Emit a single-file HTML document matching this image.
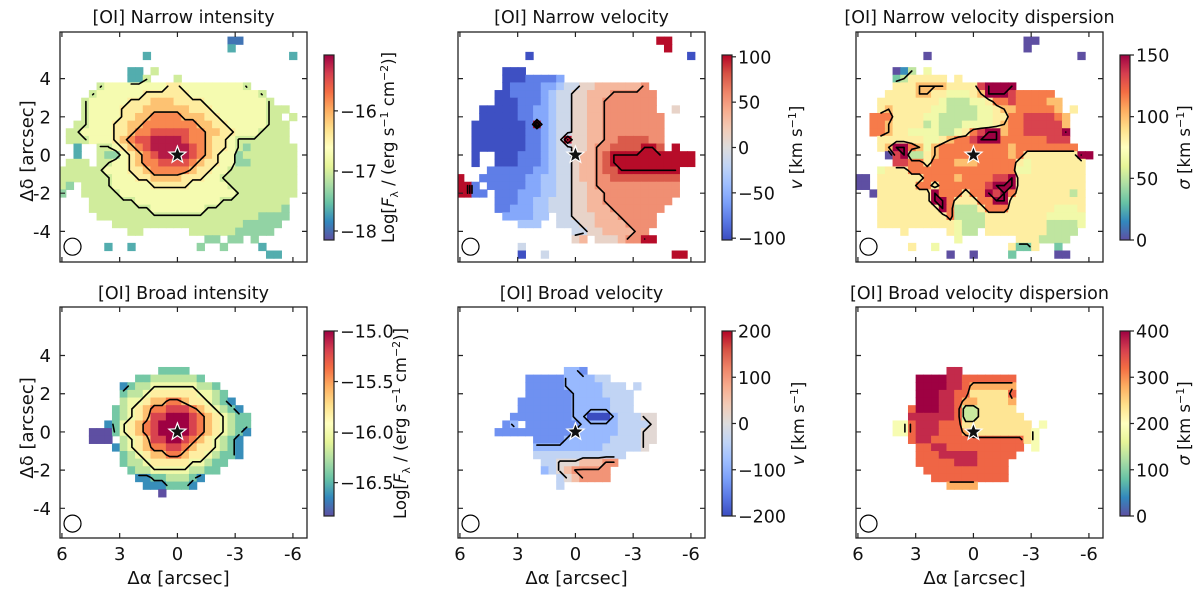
<!DOCTYPE html>
<html><head><meta charset="utf-8"><style>
html,body{margin:0;padding:0;background:#fff;}
svg{display:block;font-family:"DejaVu Sans","Liberation Sans",sans-serif;}
</style></head><body>
<svg id="fig" width="1200" height="592" viewBox="0 0 1200 592" xmlns="http://www.w3.org/2000/svg"></svg>
<script>
// ---------- data (grid rows: chars 0-9 = level, '.' = no data; spaces ignored) ----------
const gridTop = 6.2;
const gridLeft = 6.2;
const cellSize = 0.4;

const narrowIntensityRows = [
"..... ..... ..... ..... ..00. ..... .",
"..... ..... ..... ..... ..1.. ..... .",
"..... ..... .1... ..... ..... ..... 1",
"..... ..... ..... ..... ..... ..... .",
"..... ....1 1.3.. ..... ..... ..... .",
"..... ....1 13... 3.... ..... ..... .",
"..... 34444 44445 54444 44443 ..... .",
"....3 44444 45555 55444 44444 43... .",
"...34 44445 55666 55554 44444 443.. .",
"...34 44455 56666 66555 44444 44333 .",
"...34 44455 66777 76665 54444 4433. 3",
"..334 44556 67777 77766 55444 44333 .",
".3344 44556 77888 88776 65544 43333 .",
".3334 44567 88999 98776 55433 33333 .",
"..1.. 33456 78999 99876 55432 33333 3",
"..1.. 32245 67899 99876 54423 33333 3",
".333. 33445 67788 88765 54422 33333 3",
"33333 34445 56777 77655 44333 33333 3",
"33333 33444 55666 65554 43333 33333 3",
"32.33 33444 44555 55444 44333 33333 3",
"2..33 33344 44444 44444 44433 33333 3",
"....3 33333 44444 44444 43333 33333 .",
"....3 33333 33444 44443 33333 33332 .",
"..... 33333 33333 33333 33333 32222 .",
"..... ..333 33333 33333 33332 2222. .",
"..... ....3 3.... ..333 33322 222.. .",
"..... ..... ..... ....2 2.22. 2.... .",
"..... .1..1 ..... ...2. .2... .1... .",
"..... ..... ..... ..... ..... ..11. .",
"..... ..... ..... ..... ..... ..... ."];
const narrowVelocityRows = [
"..... ..... ..... ..... ..... .99.. .",
"..... ..... ..... ..... ..... ..9.. .",
"..... ....0 ..... ..... ..... ..... 0",
"..... ..... ..... ..... ..... ..... .",
"..... .000. ..... ..... ..... ..... .",
"..... .0001 1112. ..... ..... ..... .",
"..... .0111 12234 45566 66667 ..... .",
"..... 00111 12344 55666 77777 7.... .",
"..... 00011 12344 55667 77777 7.... .",
"...00 00011 22344 55667 77777 7..5. .",
"...00 00011 22344 55667 77777 77... .",
"..000 00001 92344 55667 77777 77... .",
"..000 00001 12344 55667 77777 77... .",
"..000 00001 12349 55667 78888 77... .",
"..000 00001 12344 55677 88889 98.9. .",
"..0.. 00011 12344 56678 99999 99999 9",
"..0.. 00011 12344 56678 99999 99999 9",
"....1 11111 22344 56678 89999 9999. .",
"9..11 11112 23344 56677 88888 8888. .",
"991.1 11112 23344 55677 77777 7777. .",
"9911. 11122 23344 55667 77777 7777. .",
"..... 11122 33444 55667 77777 777.. .",
"..... 11222 33444 55666 77777 77... .",
"..... .2222 33.44 55566 67777 7.... .",
"..... ...33 3..44 45566 66777 7.... .",
"..... ..... ..... 44556 66677 ..... .",
"..... ..... ..... 56.55 56779 9.... .",
"..... ...4. ..... ..... ..... ..... .",
"..... ...0. .4... ..... ..... ...99 .",
"..... ..... ..... ..... ..... ..... ."];
const narrowDispersionRows = [
"..... ..... ..... ..... ..00. ..... .",
"..... ..... ..... ..... ..0.. ..... .",
"..... ....0 ..... ..... ..... ....0 .",
"..... ..... ..... ..... ..... ..... .",
"..... 013.4 ..... ..... ..... ..... .",
"..... 23555 55.5. ..... ..... ..... .",
"..... 55566 66555 58999 9.... ..... .",
"....5 55566 55444 56999 87777 7.... .",
"...55 55555 54333 44577 87777 66... .",
"...56 55555 44333 34456 67777 76.5. .",
"..777 55554 43333 34455 77888 876.. .",
"..776 55553 43334 44456 77888 886.. .",
"..776 55444 43345 78996 77888 889.. .",
"...55 55554 45677 89997 77777 888.. .",
"...56 99764 67777 77777 67777 7777. .",
"....0 89335 67777 67777 67555 55559 9",
"..... 88775 77766 67777 75455 55555 .",
"...45 55777 77777 77777 74455 55555 .",
"00.55 55557 77767 77788 95555 55555 .",
"00.55 55577 57777 77899 95555 55555 .",
"..055 55555 97775 77989 75555 55535 .",
"...55 55555 99755 57799 55555 55555 .",
"...55 55555 59733 35777 55555 54445 .",
"...55 55555 55733 33555 55555 44444 .",
"...55 55555 55543 33555 55555 33334 .",
"..... .5... ..543 3.555 55555 3333. .",
"..... ..... ...4. ..... .5553 333.. .",
"..... ..5.. 4.... ..... 5225. .2... .",
"..... ..... ..0.. 0.... 2.... .00.. .",
"..... ..... ..... ..... ..... ..... ."];
const broadIntensityRows = [
"","","","","","","",
"..... ..... ...22 22... ..... ..... .",
"..... ..... 22333 3332. ..... ..... .",
"..... ...12 33444 44433 2.... ..... .",
"..... ...23 34555 55544 32... ..... .",
"..... ...34 45667 76554 321.. ..... .",
"..... ..234 56778 88765 4321. ..... .",
"..... ..234 56889 99876 54322 ..... .",
"..... .1245 67899 99876 54322 ..... .",
"....0 00245 67899 99876 54321 ..... .",
"....0 00.34 56889 98765 4321. ..... .",
"..... ..134 56778 87655 4321. ..... .",
"..... ...23 45667 76554 3221. ..... .",
"..... ...23 34555 55443 22... ..... .",
"..... ....2 33444 44332 2.... ..... .",
"..... ..... 11223 3321. ..... ..... .",
"..... ..... .1112 221.. ..... ..... .",
"..... ..... ...0. ..... ..... ..... ."];
const broadVelocityRows = [
"","","","","","","",
"..... ..... ....3 32... ..... ..... .",
"..... ....2 22223 33344 ..... ..... .",
"..... ....2 22223 33334 44.4. ..... .",
"..... ....2 22222 33334 444.. ..... .",
"..... ...22 22222 33333 444.. ..... .",
"..... ...22 22222 33333 444.. ..... .",
"..... ..222 22222 33000 34445 5.... .",
"..... .23.2 22222 23333 34444 5.... .",
"..... 22222 22222 33333 34445 5.... .",
"..... ..... 22223 33333 44445 5.... .",
"..... ..... 33333 33334 44445 ..... .",
"..... ..... 44444 44444 44... ..... .",
"..... ..... .4455 56667 7.... ..... .",
"..... ..... .3456 77777 ..... ..... .",
"..... ..... ...45 67777 ..... ..... .",
"..... ..... ...4. ..... ..... ..... ."];
const broadDispersionRows = [
"","","","","","","",
"..... ..... ..88. ..... ..... ..... .",
"..... ...99 99887 77777 7.... ..... .",
"..... ...99 99887 66666 6.... ..... .",
"..... ...99 98877 55555 7.... ..... .",
"..... ...99 98876 65555 6.... ..... .",
"..... ..799 98873 35555 5.... ..... .",
"..... ..888 88873 35555 55... ..... .",
"..... 44788 87775 55555 555.4 ..... .",
"..... 44788 87776 55555 5554. ..... .",
"..... ..788 77777 77777 7754. ..... .",
"..... ...77 88777 77777 77.4. ..... .",
"..... ...77 78888 87777 7.... ..... .",
"..... ...77 77788 87777 ..... ..... .",
"..... ....7 77777 77777 ..... ..... .",
"..... ..... 77777 77777 ..... ..... .",
"..... ..... ..666 6.... ..... ..... ."];

const panelTitles = ["[OI] Narrow intensity","[OI] Narrow velocity","[OI] Narrow velocity dispersion",
                     "[OI] Broad intensity","[OI] Broad velocity","[OI] Broad velocity dispersion"];
const gridMin = [-17.95, -100, 0, -16.83, -230, 0];
const gridMax = [-15.2, 100, 150, -15.0, 200, 420];
const cbarMin = [-18.15, -102, 0, -16.83, -200, 0];
const cbarMax = [-15.07, 102, 150, -15.0, 200, 400];
const cbarTicksTL = [-16, -17, -18];
const cbarTicksTM = [100, 50, 0, -50, -100];
const cbarTicksTR = [150, 100, 50, 0];
const cbarTicksBL = [-15.0, -15.5, -16.0, -16.5];
const cbarTicksBM = [200, 100, 0, -100, -200];
const cbarTicksBR = [400, 300, 200, 100, 0];
const contourLevelsTL = [-17, -16.5, -16];
const contourLevelsTM = [-100, 0, 50, 100];
const contourLevelsTR = [50, 100, 150];
const contourLevelsBL = [-16.5, -16, -15.5];
const contourLevelsBM = [-100, 0, 100];
const contourLevelsBR = [200, 300];
const xTicks = [6, 3, 0, -3, -6];
const yTicks = [4, 2, 0, -2, -4];
const xTickLabels = ["6","3","0","-3","-6"];
const yTickLabels = ["4","2","0","-2","-4"];

const FS = 18;
const NS = "http://www.w3.org/2000/svg";
const svg = document.getElementById('fig');
function mk(tag, attrs, parent){ const e=document.createElementNS(NS,tag); for(const k in attrs) e.setAttribute(k,attrs[k]); (parent||svg).appendChild(e); return e; }
const spectral = ["#5e4fa2","#3288bd","#66c2a5","#abdda4","#e6f598","#ffffbf","#fee08b","#fdae61","#f46d43","#d53e4f","#9e0142"];
const coolwarm = ["#3b4cc0","#5977e3","#7b9ff9","#9ebeff","#c0d4f5","#dddcdc","#f2cbb7","#f7ac8e","#ee8468","#d65244","#b40426"];
function hex(h){return [parseInt(h.slice(1,3),16),parseInt(h.slice(3,5),16),parseInt(h.slice(5,7),16)];}
function cmap(stops,t){ t=Math.max(0,Math.min(1,t)); const p=t*(stops.length-1); const i=Math.min(stops.length-2,Math.floor(p)); const f=p-i; const a=hex(stops[i]),b=hex(stops[i+1]); return "rgb("+a.map((v,k)=>Math.round(v+(b[k]-v)*f)).join(",")+")"; }

const panelRows = [narrowIntensityRows,narrowVelocityRows,narrowDispersionRows,broadIntensityRows,broadVelocityRows,broadDispersionRows];
const panelCmaps = [spectral,coolwarm,spectral,spectral,coolwarm,spectral];
const panelCbTicks = [cbarTicksTL,cbarTicksTM,cbarTicksTR,cbarTicksBL,cbarTicksBM,cbarTicksBR];
const panelLevels = [contourLevelsTL,contourLevelsTM,contourLevelsTR,contourLevelsBL,contourLevelsBM,contourLevelsBR];
const cbLabelOffset = [70,80,70,82,82,70];
const tickFmt = [v=>String(v).replace('-','\u2212'), v=>String(v).replace('-','\u2212'), v=>String(v),
                 v=>v.toFixed(1).replace('-','\u2212'), v=>String(v).replace('-','\u2212'), v=>String(v)];

function parseGrid(rows, vmin, vmax){
  return rows.map(r=>{ const s=r.replace(/ /g,''); const out=[]; for(let j=0;j<31;j++){ const c=s[j]; out.push(c===undefined||c==='.'?null:vmin+(+c)/9*(vmax-vmin)); } return out; });
}

for(let p=0;p<6;p++){
  const col=p%3, row=Math.floor(p/3);
  const ox=60+398*col, ow=247;
  const oy=row===0?32:307, oh=row===0?230:231;
  const yTopVal=row===0?6.44:6.54;
  const sx=19.25, sy=19.1;
  const X=x=>ox+(6.1-x)*sx, Y=y=>oy+(yTopVal-y)*sy;
  const g=mk('g',{});
  
  
  const clipId='clip'+p;
  const cp=mk('clipPath',{id:clipId},g); mk('rect',{x:ox,y:oy,width:ow,height:oh},cp);
  const mapG=mk('g',{'clip-path':'url(#'+clipId+')'},g);
  
  
  const grid=parseGrid(panelRows[p],gridMin[p],gridMax[p]);
  const cx=j=>gridLeft-cellSize*(j+0.5), cy=i=>gridTop-cellSize*(i+0.5);
  grid.forEach((r,i)=>r.forEach((v,j)=>{
    if(v===null) return;
    const t=(v-cbarMin[p])/(cbarMax[p]-cbarMin[p]);
    const rc=mk('rect',{x:X(cx(j)+cellSize/2).toFixed(2),y:Y(cy(i)+cellSize/2).toFixed(2),width:(cellSize*sx+0.6).toFixed(2),height:(cellSize*sy+0.6).toFixed(2),fill:cmap(panelCmaps[p],t)},mapG);
    
    
  }));
  let d="";
  panelLevels[p].forEach(L=>{
    for(let i=0;i<grid.length-1;i++) for(let j=0;j<30;j++){
      const a=grid[i][j],b=grid[i][j+1],c=grid[i+1][j+1],e=grid[i+1][j];
      if(a===null||b===null||c===null||e===null) continue;
      const pts=[];
      const edge=(v1,v2,x1,y1,x2,y2)=>{ if((v1<L)!==(v2<L)){ const f=(L-v1)/(v2-v1); pts.push([X(x1+(x2-x1)*f),Y(y1+(y2-y1)*f)]);} };
      edge(a,b,cx(j),cy(i),cx(j+1),cy(i));
      edge(b,c,cx(j+1),cy(i),cx(j+1),cy(i+1));
      edge(c,e,cx(j+1),cy(i+1),cx(j),cy(i+1));
      edge(e,a,cx(j),cy(i+1),cx(j),cy(i));
      for(let k=0;k+1<pts.length;k+=2) d+="M"+pts[k][0].toFixed(1)+","+pts[k][1].toFixed(1)+"L"+pts[k+1][0].toFixed(1)+","+pts[k+1][1].toFixed(1);
    }
  });
  const cl=mk('path',{d:d,fill:'none',stroke:'#000','stroke-width':1.6,'stroke-linecap':'round','clip-path':'url(#'+clipId+')'},g);
  
  
  const bc=mk('circle',{cx:X(5.45),cy:Y(-4.8),r:8.5,fill:'none',stroke:'#000','stroke-width':1.2},g);
  
  
  let sp=""; for(let k=0;k<10;k++){ const ang=-Math.PI/2+k*Math.PI/5; const r=k%2?3.8:9; sp+=(X(0)+r*Math.cos(ang)).toFixed(1)+","+(Y(0)+r*Math.sin(ang)).toFixed(1)+" "; }
  const st=mk('polygon',{points:sp,fill:'#111',stroke:'#fff','stroke-width':1.2},g);
  
  
  const fr=mk('rect',{x:ox,y:oy,width:ow,height:oh,fill:'none',stroke:'#222','stroke-width':1.3},g);
  
  
  let td="";
  xTicks.forEach(v=>{ td+="M"+X(v)+","+(oy+oh)+"v-5M"+X(v)+","+oy+"v5"; });
  yTicks.forEach(v=>{ td+="M"+ox+","+Y(v)+"h5M"+(ox+ow)+","+Y(v)+"h-5"; });
  mk('path',{d:td,stroke:'#222','stroke-width':1.2,fill:'none'},g);
  const tt=mk('text',{x:ox+ow/2,y:row===0?23:299,'text-anchor':'middle','font-size':17.5,fill:'#111'},g);
  tt.textContent=panelTitles[p];
  
  
  if(col===0){
    yTicks.forEach((v,k)=>{ const t=mk('text',{x:ox-9,y:Y(v)+6.5,'text-anchor':'end','font-size':FS,fill:'#111'},g); t.textContent=yTickLabels[k];
        });
    const yl=mk('text',{x:0,y:0,transform:'translate(33,'+(Y(0)-4)+') rotate(-90)','text-anchor':'middle','font-size':FS,fill:'#111'},g);
    yl.textContent="\u0394\u03b4 [arcsec]";
     
  }
  if(row===1){
    xTicks.forEach((v,k)=>{ const t=mk('text',{x:X(v),y:560,'text-anchor':'middle','font-size':FS,fill:'#111'},g); t.textContent=xTickLabels[k];
        });
    const xl=mk('text',{x:ox+ow/2-5,y:584,'text-anchor':'middle','font-size':FS,fill:'#111'},g);
    xl.textContent="\u0394\u03b1 [arcsec]";
     
  }
  const cbx=324+398*col, cbw=10, cby=row===0?55:331, cbh=185;
  const gid='grad'+p;
  const defs=mk('defs',{},g); const lg=mk('linearGradient',{id:gid,x1:0,y1:1,x2:0,y2:0},defs);
  for(let k=0;k<=20;k++) mk('stop',{offset:k/20,'stop-color':cmap(panelCmaps[p],k/20)},lg);
  const cbr=mk('rect',{x:cbx,y:cby,width:cbw,height:cbh,fill:'url(#'+gid+')',stroke:'#222','stroke-width':1.2},g);
  
  
  const CY=v=>cby+cbh*(cbarMax[p]-v)/(cbarMax[p]-cbarMin[p]);
  panelCbTicks[p].forEach(v=>{
    mk('line',{x1:cbx+cbw,x2:cbx+cbw+4,y1:CY(v),y2:CY(v),stroke:'#222','stroke-width':1.2},g);
    const t=mk('text',{x:cbx+cbw+6,y:CY(v)+6.5,'font-size':17.5,fill:'#111'},g); t.textContent=tickFmt[p](v);
     
  });
  const lab=mk('text',{x:0,y:0,transform:'translate('+(cbx+cbLabelOffset[p])+','+(cby+cbh/2)+') rotate(-90)','text-anchor':'middle','font-size':16.5,fill:'#111'},g);
  if(col===0) lab.innerHTML='Log[<tspan font-style="italic">F</tspan><tspan font-size="11" dy="4">\u03bb</tspan><tspan dy="-4"> / (erg s</tspan><tspan font-size="11" dy="-6">\u22121</tspan><tspan dy="6"> cm</tspan><tspan font-size="11" dy="-6">\u22122</tspan><tspan dy="6">)]</tspan>';
  else if(col===1) lab.innerHTML='<tspan font-style="italic">v</tspan> [km s<tspan font-size="11" dy="-6">\u22121</tspan><tspan dy="6">]</tspan>';
  else lab.innerHTML='<tspan font-style="italic">\u03c3</tspan> [km s<tspan font-size="11" dy="-6">\u22121</tspan><tspan dy="6">]</tspan>';
  
  
}
</script>
</body></html>
